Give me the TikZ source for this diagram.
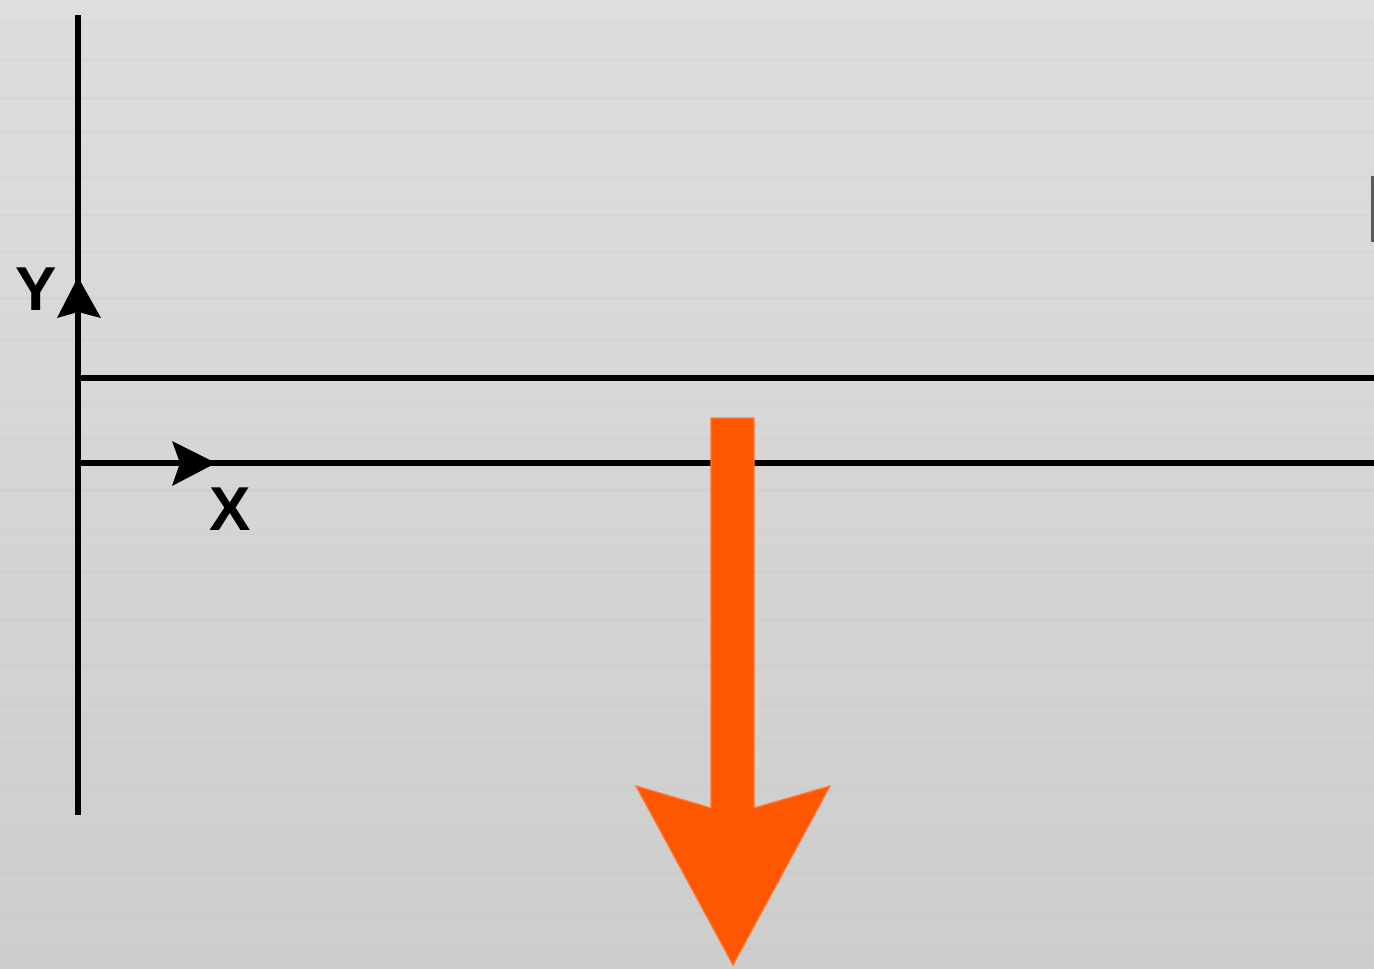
\documentclass[tikz,border=0pt]{standalone}
\usepackage{fontspec}
\setmainfont{Liberation Sans}
\definecolor{metaltop}{RGB}{222,222,222}
\definecolor{metalbot}{RGB}{205,205,205}
\definecolor{streak}{RGB}{190,190,190}
\definecolor{forceorange}{RGB}{255,86,0}
\begin{document}
\begin{tikzpicture}[x=0.5pt,y=-0.5pt,
  axisline/.style={line width=3.1pt,black},
  headfill/.style={fill=black},
  axislabel/.style={font=\bfseries\fontsize{31}{31}\selectfont,inner sep=0pt},
  forcearrow/.style={fill=forceorange,draw=forceorange!80!white,line width=0.6pt}]
\useasboundingbox (0,0) rectangle (1374,968);
\shade[top color=metaltop,bottom color=metalbot] (0,0) rectangle (1374,968);
% brushed texture
\foreach \yy/\op in {22/0.12,58/0.15,97/0.1,131/0.14,176/0.12,214/0.15,251/0.1,297/0.13,338/0.15,401/0.1,437/0.12,489/0.14,532/0.1,571/0.15,618/0.12,664/0.1,703/0.14,742/0.12,788/0.15,836/0.1,871/0.13,913/0.15,948/0.1}{
  \fill[streak,opacity=\op] (0,\yy) rectangle (1374,\yy+3);
}
% coordinates
\coordinate (ytop) at (78,15);
\coordinate (ybot) at (78,815);
\coordinate (l1a) at (76.5,378);
\coordinate (l1b) at (1374,378);
\coordinate (l2a) at (76.5,463);
\coordinate (l2b) at (1374,463);
% lines
\draw[axisline] (ytop) -- (ybot);
\draw[axisline] (l1a) -- (l1b);
\draw[axisline] (l2a) -- (l2b);
% Y arrowhead
\fill[headfill] (78,277) -- (101,318) -- (78,312) -- (57,318) -- cycle;
% X arrowhead
\fill[headfill] (216,463) -- (172,486) -- (180,463) -- (172,441) -- cycle;
% labels
\node[axislabel] (ylab) at (36,289) {Y};
\node[axislabel] (xlab) at (230,509) {X};
% orange force arrow
\path[forcearrow] (711,418) -- (754,418) -- (754,808) -- (830,786) -- (733,965) -- (636,786) -- (711,808) -- cycle;
% frame mark at right edge
\draw[line width=1.5pt,black!65] (1372,176) -- (1372,242);
\end{tikzpicture}
\end{document}
